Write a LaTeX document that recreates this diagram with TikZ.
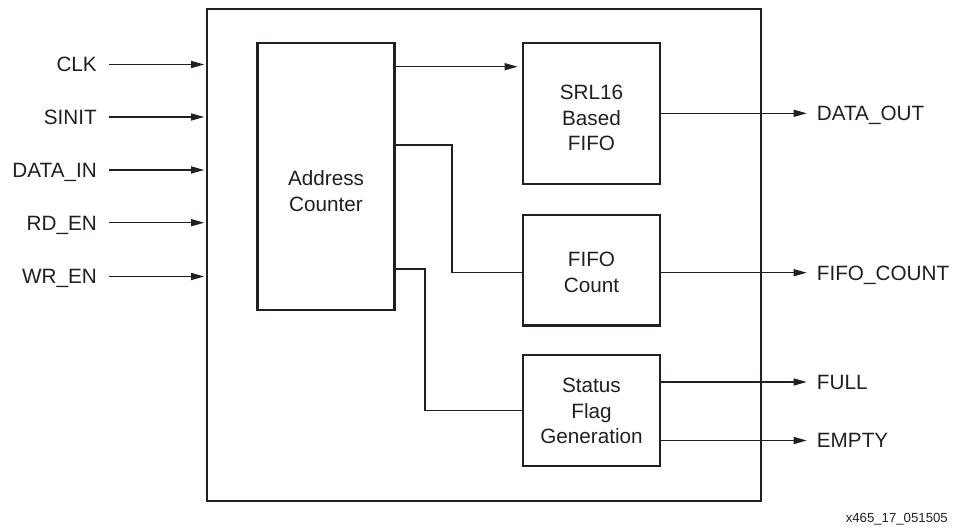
\documentclass[tikz,border=0pt]{standalone}
\usepackage{fontspec}
\setmainfont{Liberation Sans}
\usetikzlibrary{arrows.meta}
\definecolor{ink}{HTML}{231F20}
\tikzset{
  blk/.style={draw=ink, line width=2.8pt, minimum width=137pt, inner sep=0pt},
  outerbox/.style={draw=ink, line width=2.8pt},
  conn/.style={draw=ink, line width=1.2pt},
  arr/.style={conn, -{Triangle[length=13pt,width=7pt]}},
  txt/.style={text=ink, font=\fontsize{20.7}{25.3}\selectfont, align=center, inner sep=0pt},
  inlbl/.style={text=ink, font=\fontsize{20.7}{25}\selectfont, anchor=east, text height=14.8pt, text depth=0pt, inner ysep=0pt, inner xsep=12pt},
  outlbl/.style={text=ink, font=\fontsize{20.7}{25}\selectfont, anchor=west, text height=14.8pt, text depth=0pt, inner ysep=0pt, inner xsep=10pt},
  captxt/.style={text=ink, font=\fontsize{13.2}{16}\selectfont, anchor=east, text height=9.5pt, text depth=0pt, inner sep=0pt}
}
\begin{document}
\begin{tikzpicture}[x=1pt, y=-1pt]
\useasboundingbox (0,0) rectangle (961,527);
% outer box
\node[outerbox, minimum width=554pt, minimum height=492pt, inner sep=0pt] (outer) at (484,255) {};
% inner blocks
\node[blk, minimum height=267pt] (ac) at (326,176.5) {};
\node[txt] (actxt) at (326,191) {Address\\Counter};
\node[blk, minimum height=141pt] (srl) at (591.5,113.5) {};
\node[txt] (srltxt) at (591.5,118) {SRL16\\Based\\FIFO};
\node[blk, minimum height=110.5pt] (fc) at (591.5,270.25) {};
\node[txt] (fctxt) at (591.5,272.5) {FIFO\\Count};
\node[blk, minimum height=111pt] (sf) at (591.5,410.5) {};
\node[txt] (sftxt) at (591.5,411) {Status\\Flag\\Generation};
% inputs
\node[inlbl] (clk) at (109,64.5) {CLK};
\node[inlbl] (sinit) at (109,117) {SINIT};
\node[inlbl] (din) at (109,170) {DATA\_IN};
\node[inlbl] (rden) at (109,222.7) {RD\_EN};
\node[inlbl] (wren) at (109,276.5) {WR\_EN};
\foreach \n in {clk,sinit,din,rden,wren}
  \draw[arr] (\n.east) -- ([xshift=-1.4pt]outer.west |- \n.east);
% outputs
\node[outlbl] (dout) at (806.7,113.3) {DATA\_OUT};
\node[outlbl] (fcount) at (806.7,272.7) {FIFO\_COUNT};
\node[outlbl] (full) at (806.7,382) {FULL};
\node[outlbl] (empty) at (806.7,440.5) {EMPTY};
\draw[arr] (srl.east |- dout.west) -- (dout.west);
\draw[arr] (fc.east |- fcount.west) -- (fcount.west);
\draw[arr] (sf.east |- full.west) -- (full.west);
\draw[arr] (sf.east |- empty.west) -- (empty.west);
% internal connections
\coordinate (y1) at (0,66.7);
\coordinate (y2) at (0,145);
\coordinate (x2) at (452,0);
\coordinate (y3) at (0,269);
\coordinate (x3) at (425,0);
\coordinate (y4) at (0,410.5);
\draw[arr] (ac.east |- y1) -- ([xshift=-4pt]srl.west |- y1);
\draw[conn] (ac.east |- y2) -- (x2 |- y2) -- (x2 |- fcount.west) -- (fc.west |- fcount.west);
\draw[conn] (ac.east |- y3) -- (x3 |- y3) -- (x3 |- y4) -- (sf.west |- y4);
% caption
\node[captxt] (capt) at (948,518) {x465\_17\_051505};
\end{tikzpicture}
\end{document}
